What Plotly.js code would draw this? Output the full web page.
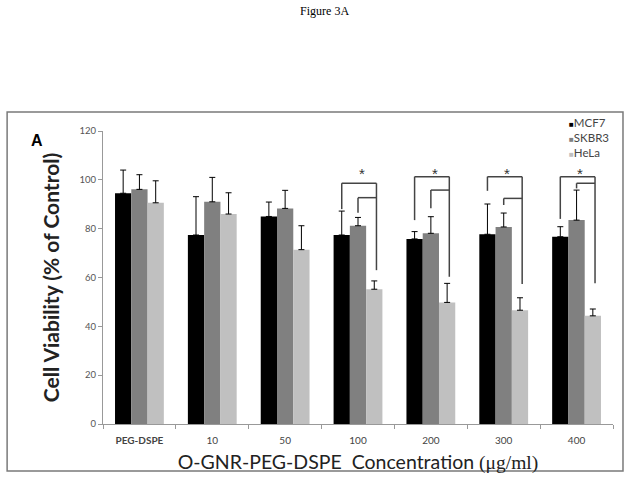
<!DOCTYPE html>
<html>
<head>
<meta charset="utf-8">
<script src="https://cdn.plot.ly/plotly-3.0.1.min.js"></script>
<style>
  body { margin: 0; background: #fff; }
</style>
</head>
<body>
<div id="viabilityPlot"></div>
<script>
let categories = ['PEG-DSPE', '10', '50', '100', '200', '300', '400'];

let seriesNames = ['MCF7', 'SKBR3', 'HeLa'];
let seriesColors = ['#000000', '#808080', '#c0c0c0'];

let mcf7 = [94.5, 77.4, 85.0, 77.4, 75.8, 77.7, 76.7];
let mcf7Err = [9.5, 15.7, 5.9, 9.8, 3.0, 12.4, 4.1];
let skbr3 = [96.1, 91.0, 88.3, 81.2, 78.1, 80.7, 83.5];
let skbr3Err = [6.0, 10.0, 7.4, 3.4, 6.8, 5.7, 12.3];
let hela = [90.6, 86.0, 71.4, 55.2, 49.8, 46.6, 44.3];
let helaErr = [9.0, 8.7, 9.8, 3.4, 7.8, 5.1, 2.8];

// significance brackets (value levels)
let sigCats = ['100', '200', '300', '400'];
let outerTop = [98.6, 101.3, 101.3, 101.3];
let outerFrom = [88.0, 83.5, 95.5, 84.0];
let outerTo = [63.0, 60.3, 57.3, 57.6];
let innerTop = [92.7, 95.8, 92.4, 98.6];
let innerFrom = [86.5, 88.4, 89.7, 96.5];
let starY = [102.5, 102.5, 102.5, 102.5];

let bargap = 0.33;

function makePlot(plotDiv) {
  let zeros = categories.map(() => 0);
  let values = [mcf7, skbr3, hela];
  let errors = [mcf7Err, skbr3Err, helaErr];

  let data = seriesNames.map((name, k) => ({
    x: categories,
    y: values[k],
    name: name,
    type: 'bar',
    marker: { color: seriesColors[k] },
    error_y: {
      type: 'data',
      symmetric: false,
      array: errors[k],
      arrayminus: zeros,
      color: '#000',
      thickness: 1,
      width: 3
    }
  }));

  // brackets and stars
  let w = (1 - bargap) / 3;
  let lineStyle = { color: '#444', width: 1.5 };
  let shapes = [];
  let annotations = [];

  sigCats.forEach((cat, i) => {
    let c = categories.indexOf(cat);
    let xm = c - w;
    let xs = c;
    let xh = c + w + 0.03;
    // outer bracket: MCF7 -> HeLa
    shapes.push({ type: 'line', xref: 'x', yref: 'y', x0: xm, x1: xm, y0: outerFrom[i], y1: outerTop[i], line: lineStyle });
    shapes.push({ type: 'line', xref: 'x', yref: 'y', x0: xm, x1: xh, y0: outerTop[i], y1: outerTop[i], line: lineStyle });
    shapes.push({ type: 'line', xref: 'x', yref: 'y', x0: xh, x1: xh, y0: outerTop[i], y1: outerTo[i], line: lineStyle });
    // inner bracket: SKBR3 -> HeLa
    shapes.push({ type: 'line', xref: 'x', yref: 'y', x0: xs, x1: xs, y0: innerFrom[i], y1: innerTop[i], line: lineStyle });
    shapes.push({ type: 'line', xref: 'x', yref: 'y', x0: xs, x1: xh, y0: innerTop[i], y1: innerTop[i], line: lineStyle });

    annotations.push({
      xref: 'x', yref: 'y',
      x: c + 0.05, y: starY[i],
      text: '*',
      showarrow: false,
      font: { family: 'Liberation Sans, Arial', size: 15, color: '#333' }
    });
  });

  // compact legend drawn as one block of text, like the original
  let legendText = seriesNames.map((name, k) =>
    '<span style="font-size:8px;color:' + seriesColors[k] + '">■</span>' + name
  ).join('<br>');
  annotations.push({
    xref: 'paper', yref: 'paper',
    x: 0.909, y: 1.058,
    xanchor: 'left', yanchor: 'top',
    align: 'left',
    text: legendText,
    showarrow: false,
    font: { family: 'Lato, Liberation Sans, sans-serif', size: 11.5, color: '#444' }
  });

  // outer frame
  shapes.push({
    type: 'rect',
    xref: 'paper', yref: 'paper',
    x0: -0.188, x1: 1.0196, y0: -0.160, y1: 1.065,
    line: { color: '#7a7a7a', width: 1.5 }
  });

  // panel letter
  annotations.push({
    xref: 'paper', yref: 'paper',
    x: -0.145, y: 1.002,
    text: '<b>A</b>',
    showarrow: false,
    font: { family: 'Liberation Sans, Arial', size: 16, color: '#000' }
  });

  let tickText = categories.map(c => c === 'PEG-DSPE' ? '<b>PEG-DSPE</b>' : c);

  let layout = {
    width: 629,
    height: 486,
    paper_bgcolor: '#fff',
    plot_bgcolor: '#fff',
    title: {
      text: 'Figure 3A',
      x: 0.516,
      xanchor: 'center',
      y: 0.977,
      yanchor: 'middle',
      font: { family: 'Liberation Serif, Times New Roman', size: 12, color: '#000' }
    },
    font: { family: 'Lato, Liberation Sans, sans-serif' },
    margin: { l: 103, r: 16, t: 131, b: 62 },
    barmode: 'group',
    bargap: bargap,
    bargroupgap: 0,
    showlegend: false,
    xaxis: {
      type: 'category',
      tickvals: categories,
      ticktext: tickText,
      tickson: 'boundaries',
      ticks: 'outside',
      ticklen: 4,
      tickcolor: '#999',
      ticklabelstandoff: 7,
      showline: true,
      linecolor: '#999',
      linewidth: 1,
      showgrid: false,
      tickfont: { family: 'Lato, Liberation Sans, sans-serif', size: 10, color: '#444' },
      title: {
        text: 'O-GNR-PEG-DSPE  Concentration <span style="font-family:Liberation Serif">(μg/ml)</span>',
        standoff: 10,
        font: { family: 'Lato, Liberation Sans, sans-serif', size: 19.5, color: '#222' }
      }
    },
    yaxis: {
      range: [0, 120],
      dtick: 20,
      ticks: 'outside',
      ticklen: 4,
      tickcolor: '#999',
      showline: true,
      linecolor: '#999',
      linewidth: 1,
      showgrid: false,
      zeroline: false,
      tickfont: { family: 'Lato, Liberation Sans, sans-serif', size: 9.5, color: '#555' },
      title: {
        text: '<b>Cell Viability (% of Control)</b>',
        standoff: 14,
        font: { family: 'Lato, Liberation Sans, sans-serif', size: 21, color: '#222' }
      }
    },
    shapes: shapes,
    annotations: annotations
  };

  let config = { responsive: false, displayModeBar: false };

  Plotly.newPlot(plotDiv, data, layout, config);
}

makePlot(document.getElementById('viabilityPlot'));
</script>
</body>
</html>
